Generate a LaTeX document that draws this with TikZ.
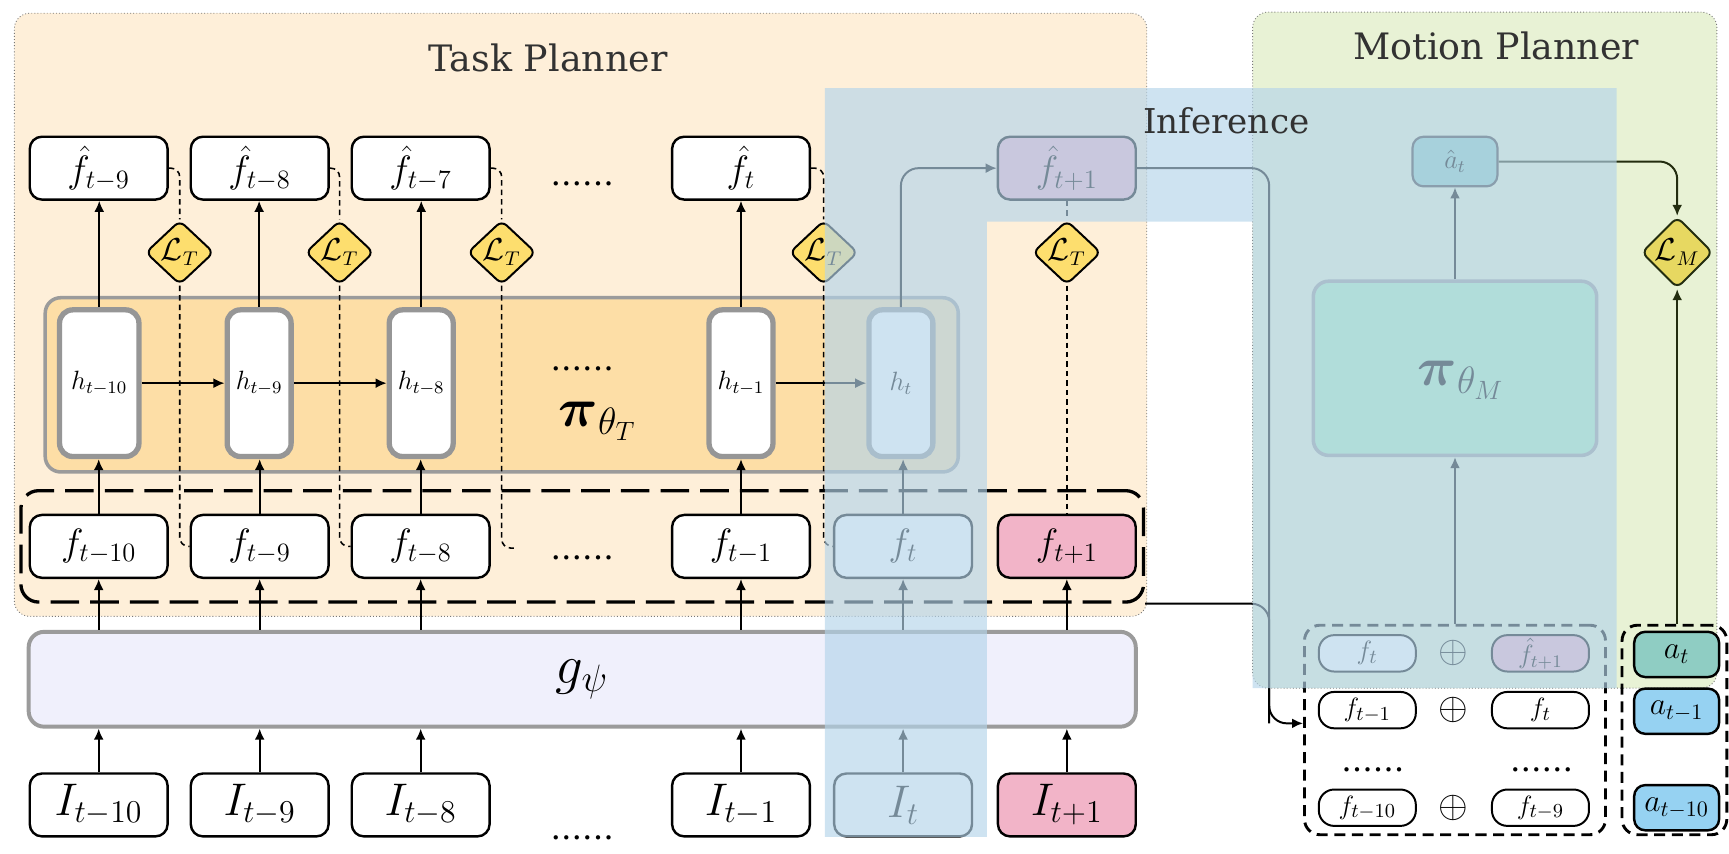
\documentclass[tikz,border=0pt]{standalone}
\usepackage{amsmath}
\usepackage{fontspec}
\setmainfont{DejaVu Serif}
\usetikzlibrary{arrows.meta,shapes.geometric}
\definecolor{tpbg}{RGB}{254,239,217}
\definecolor{mpbg}{RGB}{232,242,213}
\definecolor{piorange}{RGB}{253,222,166}
\definecolor{glav}{RGB}{240,240,252}
\definecolor{pinkc}{RGB}{242,180,200}
\definecolor{lossY}{RGB}{253,222,110}
\definecolor{lossM}{RGB}{231,216,97}
\definecolor{tealc}{RGB}{143,205,195}
\definecolor{lblue}{RGB}{150,210,242}
\definecolor{mint}{RGB}{172,238,190}
\definecolor{hgray}{RGB}{150,150,150}
\definecolor{pgray}{RGB}{155,155,155}
\definecolor{dotgray}{RGB}{120,120,120}
\definecolor{ovl}{RGB}{180,212,234}
\definecolor{titlegray}{RGB}{50,50,50}
\definecolor{dkolive}{RGB}{35,45,15}
\definecolor{dkgray}{RGB}{60,60,60}
\begin{document}
\begin{tikzpicture}[x=0.5pt,y=-0.5pt,
  arr/.style={line width=0.9pt,-{Latex[length=5pt,width=4.5pt]}},
  darr/.style={arr,draw=dkolive},
  ln/.style={line width=0.9pt},
  lt/.style={line width=0.7pt,dash pattern=on 2.5pt off 1.8pt},
  box/.style={draw,line width=1.1pt,rounded corners=5.5pt,fill=white,minimum width=62.5pt,minimum height=28.5pt,inner sep=0pt,font=\fontsize{18}{20}\selectfont},
  ibox/.style={box,font=\fontsize{22}{24}\selectfont},
  hcell/.style={draw=hgray,line width=2.4pt,rounded corners=6pt,fill=white,minimum width=29pt,minimum height=66.5pt,inner sep=0pt,font=\fontsize{11.5}{12}\selectfont},
  loss/.style={diamond,draw,line width=0.9pt,rounded corners=3pt,fill=lossY,minimum width=31pt,minimum height=27pt,inner sep=0pt,font=\fontsize{13.5}{14}\selectfont},
  dots/.style={font=\fontsize{15}{15}\selectfont,inner sep=0pt,anchor=base},
  title/.style={font=\fontsize{16.5}{18}\selectfont,text=titlegray,inner sep=0pt,anchor=base},
  mbox/.style={draw,line width=0.9pt,rounded corners=7pt,fill=white,minimum width=44pt,minimum height=16.5pt,inner sep=0pt,font=\fontsize{13}{14}\selectfont},
  abox/.style={draw,line width=1.1pt,rounded corners=5pt,minimum width=38.5pt,minimum height=20.5pt,inner sep=0pt,font=\fontsize{14}{15}\selectfont},
  opl/.style={font=\fontsize{16}{16}\selectfont,inner sep=0pt}
]
\useasboundingbox (0,0) rectangle (1568,774);
% backgrounds
\node[draw=dotgray,line width=0.4pt,densely dotted,fill=tpbg,rounded corners=7pt,minimum width=513.5pt,minimum height=273.5pt,inner sep=0pt] (tp) at (526.5,285.5) {};
\node[draw=dotgray,line width=0.4pt,densely dotted,fill=mpbg,rounded corners=7pt,minimum width=210.5pt,minimum height=306.5pt,inner sep=0pt] (mp) at (1346.5,317.5) {};

% policy box
\node[draw=pgray,line width=1.6pt,fill=piorange,rounded corners=7pt,minimum width=414pt,minimum height=79pt,inner sep=0pt] (piT) at (455,349) {};
\node[inner sep=0pt] (piTl) at (542,382) {\fontsize{26}{28}\selectfont$\boldsymbol{\pi}_{\theta_T}$};

% g box
\node[draw=pgray,line width=1.8pt,fill=glav,rounded corners=7pt,minimum width=502pt,minimum height=43pt,inner sep=0pt,font=\fontsize{24}{26}\selectfont] (g) at (528,616) {$g_\psi$};

% dashed feature box
\node[draw,line width=1.5pt,dash pattern=on 13pt off 5pt,rounded corners=8pt,minimum width=509pt,minimum height=50.5pt,inner sep=0pt] (fdash) at (528,495.5) {};

% f-hat row
\node[box] (fh1) at (89.5,152.5) {$\hat{f}_{t-9}$};
\node[box] (fh2) at (235.5,152.5) {$\hat{f}_{t-8}$};
\node[box] (fh3) at (381.5,152.5) {$\hat{f}_{t-7}$};
\node[box] (fh5) at (672,152.5) {$\hat{f}_{t}$};
\node[box,fill=pinkc] (fh7) at (967.5,152.5) {$\hat{f}_{t+1}$};
\node[dots] (d1) at (528,168) {......};

% losses
\node[loss] (L1) at (163,229) {$\mathcal{L}_T$};
\node[loss] (L2) at (308,229) {$\mathcal{L}_T$};
\node[loss] (L3) at (455,229) {$\mathcal{L}_T$};
\node[loss] (L5) at (747,229) {$\mathcal{L}_T$};
\node[loss] (L7) at (967.5,229) {$\mathcal{L}_T$};

% hidden cells
\node[hcell,minimum width=36pt] (h1) at (90,347.5) {$h_{t-10}$};
\node[hcell] (h2) at (235,347.5) {$h_{t-9}$};
\node[hcell] (h3) at (382,347.5) {$h_{t-8}$};
\node[hcell] (h5) at (672,347.5) {$h_{t-1}$};
\node[hcell] (h6) at (817,347.5) {$h_{t}$};
\node[dots] (d2) at (528,336) {......};

% f row
\node[box] (f1) at (89.5,495.5) {$f_{t-10}$};
\node[box] (f2) at (235.5,495.5) {$f_{t-9}$};
\node[box] (f3) at (381.5,495.5) {$f_{t-8}$};
\node[box] (f5) at (672,495.5) {$f_{t-1}$};
\node[box] (f6) at (819,495.5) {$f_{t}$};
\node[box,fill=pinkc] (f7) at (967.5,495.5) {$f_{t+1}$};
\node[dots] (d3) at (528,507) {......};
\coordinate (e3) at (466,497);

% image row
\node[ibox] (I1) at (89.5,730) {$I_{t-10}$};
\node[ibox] (I2) at (235.5,730) {$I_{t-9}$};
\node[ibox] (I3) at (381.5,730) {$I_{t-8}$};
\node[ibox] (I5) at (672,730) {$I_{t-1}$};
\node[ibox] (I6) at (819,730) {$I_{t}$};
\node[ibox,fill=pinkc] (I7) at (967.5,730) {$I_{t+1}$};
\node[dots] (d4) at (528,761) {......};

% arrows h -> f-hat
\foreach \a/\b in {h1/fh1,h2/fh2,h3/fh3,h5/fh5}{
  \draw[arr] (\a.north) -- (\a.north |- \b.south);
}
\draw[arr,rounded corners=8pt] (h6.north) |- (fh7.west);
% arrows f -> h
\foreach \a/\b in {f1/h1,f2/h2,f3/h3,f5/h5,f6/h6}{
  \draw[arr] (\a.north) -- (\a.north |- \b.south);
}
% g -> f and I -> g
\foreach \a in {1,2,3,5,6,7}{
  \draw[arr] (f\a |- g.north) -- (f\a.south);
  \draw[arr] (I\a.north) -- (I\a |- g.south);
}
% recurrent arrows
\draw[arr] (h1.east) -- (h2.west);
\draw[arr] (h2.east) -- (h3.west);
\draw[arr] (h5.east) -- (h6.west);

% loss dashed links
\draw[lt,rounded corners=4pt] (fh1.east) -| (L1.north);
\draw[lt,rounded corners=4pt] (L1.south) |- (f2.west);
\draw[lt,rounded corners=4pt] (fh2.east) -| (L2.north);
\draw[lt,rounded corners=4pt] (L2.south) |- (f3.west);
\draw[lt,rounded corners=4pt] (fh3.east) -| (L3.north);
\draw[lt,rounded corners=4pt] (L3.south) |- (e3);
\draw[lt,rounded corners=4pt] (fh5.east) -| (L5.north);
\draw[lt,rounded corners=4pt] (L5.south) |- (f6.west);
\draw[lt] (fh7.south) -- (L7.north);
\draw[lt] (L7.south) -- (f7.north);

% motion planner
\node[draw=pgray,line width=1.6pt,fill=mint,rounded corners=7pt,minimum width=128.5pt,minimum height=79pt,inner sep=0pt] (piM) at (1319.5,334) {};
\node[inner sep=0pt] (piMl) at (1325,345) {\fontsize{26}{28}\selectfont$\boldsymbol{\pi}_{\theta_M}$};
\node[draw=dkgray,line width=1pt,fill=tealc,rounded corners=5pt,minimum width=38.5pt,minimum height=22.5pt,inner sep=0pt,font=\fontsize{12}{13}\selectfont] (ah) at (1319.5,146.5) {$\hat{a}_t$};
\node[loss,fill=lossM,draw=dkolive] (LM) at (1521,229) {$\mathcal{L}_M$};

\node[draw,line width=1.3pt,dash pattern=on 5pt off 3pt,rounded corners=7pt,minimum width=136.5pt,minimum height=95pt,inner sep=0pt] (mdash) at (1319.5,662) {};
\node[draw,line width=1.3pt,dash pattern=on 5pt off 3pt,rounded corners=7pt,minimum width=47.5pt,minimum height=95pt,inner sep=0pt] (adash) at (1518.5,662) {};

\node[mbox] (m11) at (1240,592.5) {$f_t$};
\node[opl] (o1) at (1318,592.5) {$\oplus$};
\node[mbox,fill=pinkc,font=\fontsize{12}{13}\selectfont] (m12) at (1397,592.5) {$\hat{f}_{t+1}$};
\node[mbox] (m21) at (1240,644) {$f_{t-1}$};
\node[opl] (o2) at (1318,644) {$\oplus$};
\node[mbox] (m22) at (1397,644) {$f_t$};
\node[dots] (d5) at (1245,700) {......};
\node[dots] (d6) at (1398,700) {......};
\node[mbox] (m31) at (1240,732.5) {$f_{t-10}$};
\node[opl] (o3) at (1318,732.5) {$\oplus$};
\node[mbox] (m32) at (1397,732.5) {$f_{t-9}$};

\node[abox,fill=tealc] (a1) at (1520.5,593.5) {$a_t$};
\node[abox,fill=lblue] (a2) at (1520.5,645) {$a_{t-1}$};
\node[abox,fill=lblue] (a3) at (1520.5,732.5) {$a_{t-10}$};

\coordinate (j1) at (1151,656);
\draw[arr,rounded corners=8pt] (fh7.east) -| (j1) -- (mdash.west |- j1);
\draw[ln,rounded corners=8pt] (fdash.south east) -| (j1);
\draw[arr] (mdash.north) -- (piM.south);
\draw[arr] (piM.north) -- (ah.south);
\draw[darr,rounded corners=8pt] (ah.east) -| (LM.north);
\draw[darr] (LM |- adash.north) -- (LM.south);

% inference overlay
\fill[ovl,opacity=0.65] (748,80) -- (1466,80) -- (1466,624) -- (1136,624) -- (1136,201) -- (895,201) -- (895,759) -- (748,759) -- cycle;

% titles
\node[title] (tpt) at (497,65) {Task Planner};
\node[title] (mpt) at (1357,54) {Motion Planner};
\node[title,font=\fontsize{15.5}{17}\selectfont] (inf) at (1112,121) {Inference};
\end{tikzpicture}
\end{document}
